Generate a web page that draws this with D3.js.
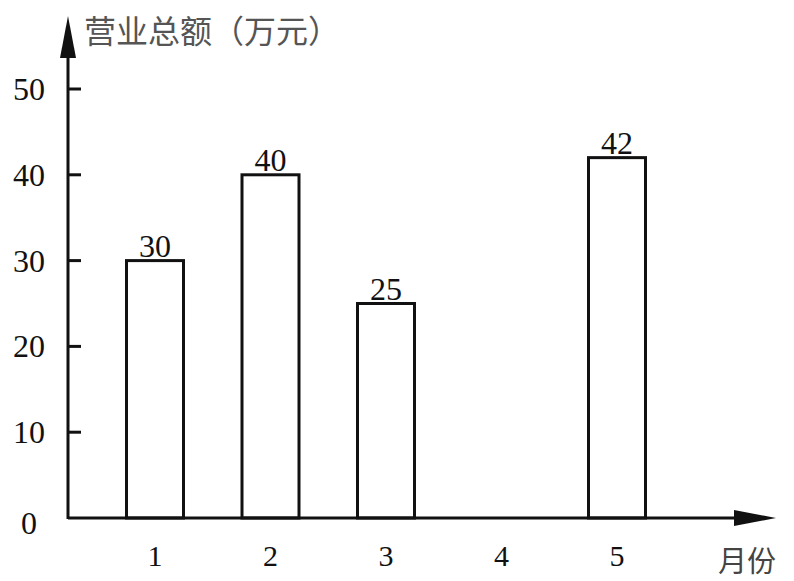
<!DOCTYPE html>
<html>
<head>
<meta charset="utf-8">
<script src="https://cdn.jsdelivr.net/npm/d3@7"></script>
<style>
  body { margin: 0; background: #fff; }
  svg { display: block; }
</style>
</head>
<body>
<svg width="794" height="581"></svg>
<script>
// données
const mois = [1, 2, 3, 4, 5];
const montants = [30, 40, 25, null, 42];   // mois 4 : barre absente
const ticksY = [0, 10, 20, 30, 40, 50];

const serif = "'Liberation Serif', 'Times New Roman', 'DejaVu Serif', serif";
const cjk = "'Noto Sans CJK SC', sans-serif";

const svg = d3.select("svg");
const x0 = 68, y0 = 518;

const x = d3.scalePoint().domain(mois).range([155, 617]);
const y = d3.scaleLinear().domain([0, 50]).range([y0, 89]);
const largeur = 57;

// barres
const donnees = mois.map((m, i) => ({mois: m, valeur: montants[i]})).filter(d => d.valeur != null);

svg.selectAll("rect.barre")
  .data(donnees)
  .enter().append("rect")
  .attr("class", "barre")
  .attr("x", d => x(d.mois) - largeur / 2)
  .attr("y", d => y(d.valeur))
  .attr("width", largeur)
  .attr("height", d => y0 - y(d.valeur))
  .attr("fill", "white")
  .attr("stroke", "#111")
  .attr("stroke-width", 3);

svg.selectAll("text.valeur")
  .data(donnees)
  .enter().append("text")
  .attr("font-family", serif)
  .attr("fill", "#111")
  .attr("x", d => x(d.mois))
  .attr("y", d => y(d.valeur) - 4)
  .attr("text-anchor", "middle")
  .attr("font-size", 32)
  .text(d => d.valeur);

// axe des ordonnées
svg.append("line")
  .attr("x1", x0).attr("y1", y0 + 1).attr("x2", x0).attr("y2", 50)
  .attr("stroke", "#111").attr("stroke-width", 3);
svg.append("path")
  .attr("d", `M${x0},16 L${x0 - 8},58 L${x0 + 8},58 Z`)
  .attr("fill", "#111");

svg.selectAll("line.tick")
  .data(ticksY.filter(t => t > 0))
  .enter().append("line")
  .attr("x1", x0).attr("x2", x0 + 13)
  .attr("y1", d => y(d)).attr("y2", d => y(d))
  .attr("stroke", "#111").attr("stroke-width", 3);

svg.selectAll("text.tickY")
  .data(ticksY)
  .enter().append("text")
  .attr("font-family", serif)
  .attr("fill", "#111")
  .attr("x", d => d == 0 ? 37 : 45)
  .attr("y", d => y(d) + (d == 0 ? 16 : 11))
  .attr("text-anchor", "end")
  .attr("font-size", 32)
  .text(d => d);

// axe des abscisses
svg.append("line")
  .attr("x1", x0).attr("y1", y0).attr("x2", 740).attr("y2", y0)
  .attr("stroke", "#111").attr("stroke-width", 3);
svg.append("path")
  .attr("d", `M776,${y0} L734,${y0 - 8} L734,${y0 + 8} Z`)
  .attr("fill", "#111");

svg.selectAll("text.mois")
  .data(mois)
  .enter().append("text")
  .attr("font-family", serif)
  .attr("fill", "#111")
  .attr("x", d => x(d))
  .attr("y", 566)
  .attr("text-anchor", "middle")
  .attr("font-size", 30)
  .text(d => d);

// titres
svg.append("text")
  .attr("font-family", cjk)
  .attr("fill", "#555")
  .attr("x", 84).attr("y", 43)
  .attr("font-size", 32)
  .text("营业总额（万元）");

svg.append("text")
  .attr("font-family", cjk)
  .attr("fill", "#444")
  .attr("x", 718).attr("y", 572)
  .attr("font-size", 29)
  .text("月份");
</script>
</body>
</html>
